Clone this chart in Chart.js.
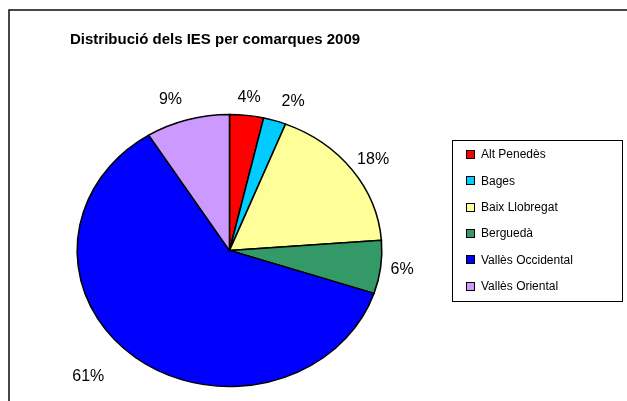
<!DOCTYPE html>
<html><head><meta charset="utf-8">
<script src="https://cdn.jsdelivr.net/npm/chart.js@4/dist/chart.umd.min.js"></script>
<style>html,body{margin:0;padding:0;background:#fff;overflow:hidden;} #wrap{width:627px;height:401px;position:relative;}</style>
</head><body><div id="wrap"><canvas id="c" width="627" height="401"></canvas></div>
<script>
const titleText = 'Distribució dels IES per comarques 2009';
const categories = ['Alt Penedès', 'Bages', 'Baix Llobregat', 'Berguedà', 'Vallès Occidental', 'Vallès Oriental'];
const shares = [3.6, 2.4, 17.8, 6.3, 61.0, 8.9];
const sliceColors = ['#FF0000', '#00CCFF', '#FFFF99', '#339966', '#0000FF', '#CC99FF'];

const FONT = '"Liberation Sans", Arial, sans-serif';
const SX = 1.12; // horizontal stretch of the pie (elliptical look)
const labelNudge = [[0, 0], [12, -2], [0, 0], [0, 0], [-31, 5], [-11, -3]];

const decorPlugin = {
  id: 'decor',
  beforeDraw(chart) {
    const ctx = chart.ctx;
    ctx.save();
    ctx.fillStyle = '#fff';
    ctx.fillRect(0, 0, chart.width, chart.height);
    ctx.strokeStyle = '#1a1a1a';
    ctx.lineWidth = 1.6;
    ctx.strokeRect(9, 10, 800, 600);
    ctx.fillStyle = '#000';
    ctx.font = 'bold 15px ' + FONT;
    ctx.textAlign = 'left';
    ctx.textBaseline = 'alphabetic';
    ctx.fillText(titleText, 70, 44);
    ctx.restore();
  },
  beforeDatasetsDraw(chart) {
    const arc = chart.getDatasetMeta(0).data[0];
    const ctx = chart.ctx;
    ctx.save();
    ctx.translate(arc.x, arc.y);
    ctx.scale(SX, 1);
    ctx.translate(-arc.x, -arc.y);
  },
  afterDatasetsDraw(chart) {
    const ctx = chart.ctx;
    ctx.restore();
    const meta = chart.getDatasetMeta(0);
    const data = chart.data.datasets[0].data;
    const total = data.reduce((a, b) => a + b, 0);
    ctx.save();
    ctx.font = '16px ' + FONT;
    ctx.fillStyle = '#000';
    ctx.textAlign = 'center';
    ctx.textBaseline = 'middle';
    const g = 10;
    meta.data.forEach((el, i) => {
      const a = (el.startAngle + el.endAngle) / 2;
      const rx = el.outerRadius * SX, ry = el.outerRadius;
      const txt = Math.round(data[i] / total * 100) + '%';
      const w = ctx.measureText(txt).width, h = 16;
      const c = Math.cos(a), s = Math.sin(a);
      const x = el.x + (rx + g) * c + c * w / 2 + labelNudge[i][0];
      const y = el.y + (ry + g) * s + s * h / 2 + labelNudge[i][1];
      ctx.fillText(txt, x, y);
    });
    ctx.restore();
  },
  afterDraw(chart) {
    const ctx = chart.ctx;
    ctx.save();
    ctx.strokeStyle = '#000';
    ctx.lineWidth = 1;
    ctx.strokeRect(452.5, 140.5, 170, 161);
    ctx.font = '12px ' + FONT;
    ctx.textAlign = 'left';
    ctx.textBaseline = 'middle';
    chart.data.labels.forEach((lab, i) => {
      const y = 155 + i * 26.3;
      ctx.fillStyle = chart.data.datasets[0].backgroundColor[i];
      ctx.fillRect(467, Math.round(y - 4), 7, 7);
      ctx.strokeStyle = '#000';
      ctx.strokeRect(466.5, Math.round(y - 4) - 0.5, 8, 8);
      ctx.fillStyle = '#000';
      ctx.fillText(lab, 481, y);
    });
    ctx.restore();
  }
};

new Chart(document.getElementById('c'), {
  type: 'pie',
  data: {
    labels: categories,
    datasets: [{
      data: shares,
      backgroundColor: sliceColors,
      borderColor: '#000',
      borderWidth: 1.4,
      borderJoinStyle: 'miter'
    }]
  },
  options: {
    responsive: false,
    animation: false,
    devicePixelRatio: 1,
    radius: 136,
    layout: { padding: { top: 114, bottom: 14, left: 93, right: 261 } },
    plugins: { legend: { display: false }, tooltip: { enabled: false }, title: { display: false } }
  },
  plugins: [decorPlugin]
});
</script>
</body></html>
